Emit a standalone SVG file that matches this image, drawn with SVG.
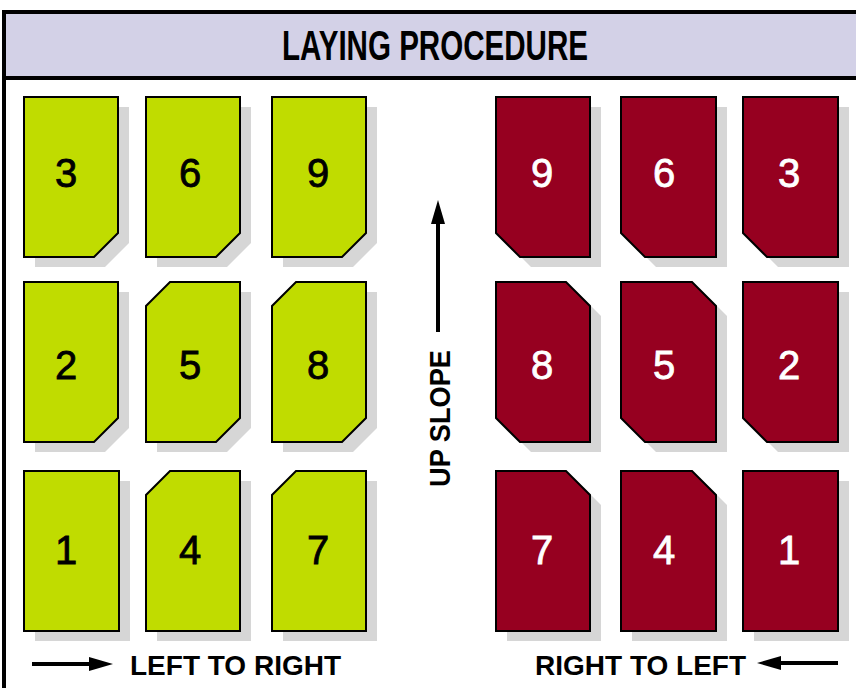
<svg xmlns="http://www.w3.org/2000/svg" width="856" height="688" viewBox="0 0 856 688">
<style>
.bg{fill:#ffffff}
.hdr{fill:#D3D1E7}
.frame{fill:none;stroke:#000;stroke-width:4}
.sh{fill:#D6D6D6}
.g{fill:#C0DC00;stroke:#000;stroke-width:2;stroke-linejoin:miter}
.r{fill:#960020;stroke:#000;stroke-width:2;stroke-linejoin:miter}
.num{font-family:"Liberation Sans",Arial,sans-serif;font-size:40px;text-anchor:middle;stroke-width:0.8px}
.gn{fill:#000;stroke:#000}
.rn{fill:#fff;stroke:#fff}
.title{font-family:"Liberation Sans",Arial,sans-serif;font-weight:bold;font-size:42px;fill:#000}
.lbl{font-family:"Liberation Sans",Arial,sans-serif;font-weight:bold;font-size:28px;fill:#000}
.arr{stroke:#000;stroke-width:4;fill:none}
</style>
<defs>
<marker id="head" viewBox="0 0 24 14" markerWidth="24" markerHeight="14" refX="0" refY="7" markerUnits="userSpaceOnUse" orient="auto">
<path d="M0,0 L24,7 L0,14 z" fill="#000"/>
</marker>
</defs>
<rect class="bg" x="0" y="0" width="856" height="688"/>
<g id="header">
<rect class="hdr" x="4" y="12" width="860" height="66"/>
<rect class="frame" x="4" y="12" width="900" height="720"/>
<line x1="4" y1="78" x2="860" y2="78" stroke="#000" stroke-width="4"/>
<text class="title" x="435" y="60" text-anchor="middle" textLength="306" lengthAdjust="spacingAndGlyphs">LAYING PROCEDURE</text>
</g>

<!-- Green tiles -->
<g id="g3">
<polygon class="sh" points="35,107 129,107 129,243 105,267 35,267"/>
<polygon class="g" points="24,97 118,97 118,233 94,257 24,257"/>
<text class="num gn" x="66" y="187">3</text>
</g>
<g id="g6">
<polygon class="sh" points="157,107 251,107 251,243 227,267 157,267"/>
<polygon class="g" points="146,97 240,97 240,233 216,257 146,257"/>
<text class="num gn" x="190" y="187">6</text>
</g>
<g id="g9">
<polygon class="sh" points="283,107 377,107 377,243 353,267 283,267"/>
<polygon class="g" points="272,97 366,97 366,233 342,257 272,257"/>
<text class="num gn" x="318" y="187">9</text>
</g>
<g id="g2">
<polygon class="sh" points="35,292 129,292 129,428 105,452 35,452"/>
<polygon class="g" points="24,282 118,282 118,418 94,442 24,442"/>
<text class="num gn" x="66" y="379">2</text>
</g>
<g id="g5">
<polygon class="sh" points="181,292 251,292 251,428 227,452 157,452 157,316"/>
<polygon class="g" points="170,282 240,282 240,418 216,442 146,442 146,306"/>
<text class="num gn" x="190" y="379">5</text>
</g>
<g id="g8">
<polygon class="sh" points="307,292 377,292 377,428 353,452 283,452 283,316"/>
<polygon class="g" points="296,282 366,282 366,418 342,442 272,442 272,306"/>
<text class="num gn" x="318" y="379">8</text>
</g>
<g id="g1">
<polygon class="sh" points="35,481 130,481 130,641 35,641"/>
<polygon class="g" points="24,471 119,471 119,631 24,631"/>
<text class="num gn" x="66" y="564">1</text>
</g>
<g id="g4">
<polygon class="sh" points="181,481 251,481 251,641 157,641 157,505"/>
<polygon class="g" points="170,471 240,471 240,631 146,631 146,495"/>
<text class="num gn" x="190" y="564">4</text>
</g>
<g id="g7">
<polygon class="sh" points="307,481 377,481 377,641 283,641 283,505"/>
<polygon class="g" points="296,471 366,471 366,631 272,631 272,495"/>
<text class="num gn" x="318" y="564">7</text>
</g>

<!-- Red tiles -->
<g id="r9">
<polygon class="sh" points="507,107 601,107 601,267 531,267 507,243"/>
<polygon class="r" points="496,97 590,97 590,257 520,257 496,233"/>
<text class="num rn" x="542" y="187">9</text>
</g>
<g id="r6">
<polygon class="sh" points="632,107 727,107 727,267 656,267 632,243"/>
<polygon class="r" points="621,97 716,97 716,257 645,257 621,233"/>
<text class="num rn" x="664" y="187">6</text>
</g>
<g id="r3">
<polygon class="sh" points="754,107 849,107 849,267 778,267 754,243"/>
<polygon class="r" points="743,97 838,97 838,257 767,257 743,233"/>
<text class="num rn" x="789" y="187">3</text>
</g>
<g id="r8">
<polygon class="sh" points="507,292 577,292 601,316 601,452 531,452 507,428"/>
<polygon class="r" points="496,282 566,282 590,306 590,442 520,442 496,418"/>
<text class="num rn" x="542" y="379">8</text>
</g>
<g id="r5">
<polygon class="sh" points="632,292 703,292 727,316 727,452 656,452 632,428"/>
<polygon class="r" points="621,282 692,282 716,306 716,442 645,442 621,418"/>
<text class="num rn" x="664" y="379">5</text>
</g>
<g id="r2">
<polygon class="sh" points="754,292 849,292 849,452 778,452 754,428"/>
<polygon class="r" points="743,282 838,282 838,442 767,442 743,418"/>
<text class="num rn" x="789" y="379">2</text>
</g>
<g id="r7">
<polygon class="sh" points="507,481 577,481 601,505 601,641 507,641"/>
<polygon class="r" points="496,471 566,471 590,495 590,631 496,631"/>
<text class="num rn" x="542" y="564">7</text>
</g>
<g id="r4">
<polygon class="sh" points="632,481 703,481 727,505 727,641 632,641"/>
<polygon class="r" points="621,471 692,471 716,495 716,631 621,631"/>
<text class="num rn" x="664" y="564">4</text>
</g>
<g id="r1">
<polygon class="sh" points="754,481 849,481 849,641 754,641"/>
<polygon class="r" points="743,471 838,471 838,631 743,631"/>
<text class="num rn" x="789" y="564">1</text>
</g>

<g id="connectors">
<line class="arr" x1="438" y1="332" x2="438" y2="224" marker-end="url(#head)"/>
<line class="arr" x1="32" y1="664" x2="89" y2="664" marker-end="url(#head)"/>
<line class="arr" x1="838" y1="663" x2="781" y2="663" marker-end="url(#head)"/>
</g>

<g id="labels">
<text class="lbl" transform="translate(450,418.5) rotate(-90)" text-anchor="middle" textLength="137" lengthAdjust="spacingAndGlyphs" style="font-size:29px">UP SLOPE</text>
<text class="lbl" x="130" y="675">LEFT TO RIGHT</text>
<text class="lbl" x="535" y="675">RIGHT TO LEFT</text>
</g>
</svg>
